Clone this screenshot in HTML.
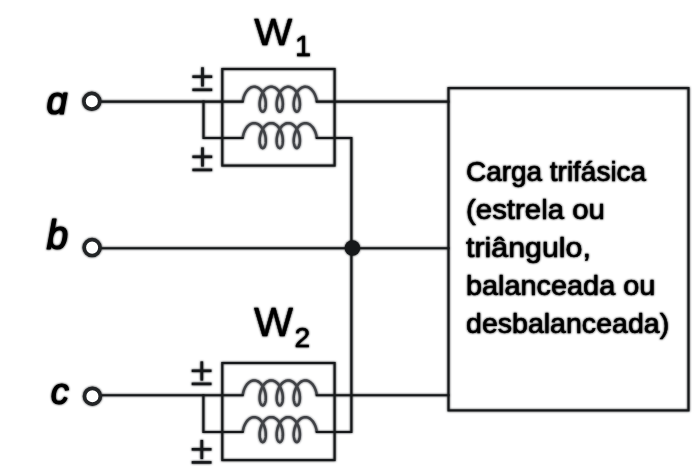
<!DOCTYPE html>
<html><head><meta charset="utf-8"><style>
html,body{margin:0;padding:0;background:#fff;overflow:hidden}
svg{display:block}
.bl{filter:blur(1px)}
</style></head><body>
<svg width="699" height="472" viewBox="0 0 699 472">
<defs><g id="dg">
<rect x="222.3" y="69" width="112.3" height="96.6" fill="none" stroke="#16181a" stroke-width="2.1"/>
<path d="M242.74,101.60 L242.87,100.68 L243.03,99.75 L243.23,98.82 L243.47,97.89 L243.75,96.97 L244.06,96.06 L244.41,95.17 L244.80,94.30 L245.22,93.46 L245.67,92.65 L246.16,91.87 L246.68,91.14 L247.22,90.46 L247.79,89.82 L248.39,89.23 L249.01,88.71 L249.65,88.23 L250.31,87.82 L250.98,87.48 L251.67,87.20 L252.36,86.98 L253.07,86.84 L253.77,86.76 L254.48,86.76 L255.19,86.82 L255.89,86.95 L256.59,87.15 L257.28,87.42 L257.96,87.75 L258.62,88.15 L259.26,88.60 L259.88,89.12 L260.49,89.70 L261.06,90.32 L261.61,91.00 L262.14,91.72 L262.63,92.49 L263.09,93.29 L263.52,94.12 L263.91,94.99 L264.27,95.87 L264.59,96.78 L264.87,97.70 L265.12,98.63 L265.33,99.56 L265.50,100.49 L265.63,101.41 L265.73,102.32 L265.79,103.22 L265.81,104.09 L265.80,104.93 L265.76,105.75 L265.68,106.53 L265.57,107.26 L265.43,107.95 L265.27,108.60 L265.08,109.19 L264.87,109.73 L264.64,110.21 L264.39,110.62 L264.12,110.98 L263.84,111.27 L263.55,111.49 L263.25,111.65 L262.95,111.73 L262.65,111.75 L262.34,111.69 L262.04,111.57 L261.75,111.38 L261.46,111.12 L261.19,110.80 L260.93,110.41 L260.69,109.96 L260.47,109.45 L260.27,108.88 L260.09,108.26 L259.94,107.59 L259.82,106.88 L259.73,106.12 L259.67,105.32 L259.64,104.49 L259.65,103.63 L259.69,102.75 L259.77,101.84 L259.89,100.92 L260.04,100.00 L260.23,99.06 L260.46,98.13 L260.73,97.21 L261.03,96.30 L261.37,95.40 L261.75,94.52 L262.16,93.68 L262.60,92.86 L263.08,92.08 L263.59,91.33 L264.13,90.63 L264.69,89.98 L265.28,89.38 L265.90,88.84 L266.53,88.35 L267.18,87.93 L267.85,87.56 L268.54,87.27 L269.23,87.03 L269.93,86.87 L270.64,86.78 L271.35,86.75 L272.06,86.79 L272.76,86.91 L273.46,87.09 L274.15,87.34 L274.83,87.65 L275.50,88.03 L276.14,88.48 L276.77,88.98 L277.38,89.54 L277.97,90.15 L278.52,90.81 L279.05,91.53 L279.55,92.28 L280.02,93.07 L280.46,93.90 L280.86,94.75 L281.23,95.64 L281.56,96.54 L281.85,97.45 L282.11,98.38 L282.33,99.31 L282.51,100.24 L282.65,101.17 L282.76,102.08 L282.83,102.98 L282.86,103.86 L282.86,104.71 L282.82,105.54 L282.75,106.32 L282.65,107.07 L282.53,107.78 L282.37,108.43 L282.19,109.04 L281.98,109.59 L281.75,110.09 L281.51,110.52 L281.24,110.89 L280.97,111.20 L280.68,111.44 L280.38,111.61 L280.08,111.72 L279.78,111.75 L279.47,111.72 L279.17,111.61 L278.88,111.44 L278.59,111.20 L278.31,110.89 L278.05,110.52 L277.81,110.09 L277.58,109.59 L277.37,109.04 L277.19,108.43 L277.03,107.78 L276.90,107.07 L276.80,106.32 L276.73,105.54 L276.70,104.71 L276.70,103.86 L276.73,102.98 L276.80,102.08 L276.90,101.17 L277.05,100.24 L277.23,99.31 L277.45,98.38 L277.70,97.45 L278.00,96.54 L278.33,95.64 L278.70,94.75 L279.10,93.90 L279.53,93.07 L280.00,92.28 L280.50,91.53 L281.03,90.81 L281.59,90.15 L282.18,89.54 L282.78,88.98 L283.41,88.48 L284.06,88.03 L284.73,87.65 L285.41,87.34 L286.10,87.09 L286.80,86.91 L287.50,86.79 L288.21,86.75 L288.92,86.78 L289.63,86.87 L290.33,87.03 L291.02,87.27 L291.70,87.56 L292.37,87.93 L293.03,88.35 L293.66,88.84 L294.28,89.38 L294.87,89.98 L295.43,90.63 L295.97,91.33 L296.48,92.08 L296.96,92.86 L297.40,93.68 L297.81,94.52 L298.19,95.40 L298.53,96.30 L298.83,97.21 L299.10,98.13 L299.33,99.06 L299.52,100.00 L299.67,100.92 L299.79,101.84 L299.87,102.75 L299.91,103.63 L299.92,104.49 L299.89,105.32 L299.83,106.12 L299.74,106.88 L299.62,107.59 L299.47,108.26 L299.29,108.88 L299.09,109.45 L298.87,109.96 L298.63,110.41 L298.37,110.80 L298.09,111.12 L297.81,111.38 L297.52,111.57 L297.22,111.69 L296.91,111.75 L296.61,111.73 L296.31,111.65 L296.01,111.49 L295.72,111.27 L295.44,110.98 L295.17,110.62 L294.92,110.21 L294.69,109.73 L294.48,109.19 L294.29,108.60 L294.12,107.95 L293.99,107.26 L293.88,106.53 L293.80,105.75 L293.76,104.93 L293.75,104.09 L293.77,103.22 L293.83,102.32 L293.93,101.41 L294.06,100.49 L294.23,99.56 L294.44,98.63 L294.68,97.70 L294.97,96.78 L295.29,95.87 L295.65,94.99 L296.04,94.12 L296.47,93.29 L296.93,92.49 L297.42,91.72 L297.94,91.00 L298.49,90.32 L299.07,89.70 L299.67,89.12 L300.30,88.60 L300.94,88.15 L301.60,87.75 L302.28,87.42 L302.97,87.15 L303.66,86.95 L304.37,86.82 L305.08,86.76 L305.79,86.76 L306.49,86.84 L307.20,86.98 L307.89,87.20 L308.58,87.48 L309.25,87.82 L309.91,88.23 L310.55,88.71 L311.17,89.23 L311.76,89.82 L312.34,90.46 L312.88,91.14 L313.40,91.87 L313.88,92.65 L314.34,93.46 L314.76,94.30 L315.14,95.17 L315.49,96.06 L315.81,96.97 L316.08,97.89 L316.32,98.82 L316.52,99.75 L316.69,100.68 L316.81,101.60" fill="none" stroke="#404246" stroke-width="2.45"/>
<path d="M242.74,138.00 L242.87,137.08 L243.03,136.15 L243.23,135.22 L243.47,134.29 L243.75,133.37 L244.06,132.46 L244.41,131.57 L244.80,130.70 L245.22,129.86 L245.67,129.05 L246.16,128.27 L246.68,127.54 L247.22,126.86 L247.79,126.22 L248.39,125.63 L249.01,125.11 L249.65,124.63 L250.31,124.22 L250.98,123.88 L251.67,123.60 L252.36,123.38 L253.07,123.24 L253.77,123.16 L254.48,123.16 L255.19,123.22 L255.89,123.35 L256.59,123.55 L257.28,123.82 L257.96,124.15 L258.62,124.55 L259.26,125.00 L259.88,125.52 L260.49,126.10 L261.06,126.72 L261.61,127.40 L262.14,128.12 L262.63,128.89 L263.09,129.69 L263.52,130.52 L263.91,131.39 L264.27,132.27 L264.59,133.18 L264.87,134.10 L265.12,135.03 L265.33,135.96 L265.50,136.89 L265.63,137.81 L265.73,138.72 L265.79,139.62 L265.81,140.49 L265.80,141.33 L265.76,142.15 L265.68,142.93 L265.57,143.66 L265.43,144.35 L265.27,145.00 L265.08,145.59 L264.87,146.13 L264.64,146.61 L264.39,147.02 L264.12,147.38 L263.84,147.67 L263.55,147.89 L263.25,148.05 L262.95,148.13 L262.65,148.15 L262.34,148.09 L262.04,147.97 L261.75,147.78 L261.46,147.52 L261.19,147.20 L260.93,146.81 L260.69,146.36 L260.47,145.85 L260.27,145.28 L260.09,144.66 L259.94,143.99 L259.82,143.28 L259.73,142.52 L259.67,141.72 L259.64,140.89 L259.65,140.03 L259.69,139.15 L259.77,138.24 L259.89,137.32 L260.04,136.40 L260.23,135.46 L260.46,134.53 L260.73,133.61 L261.03,132.70 L261.37,131.80 L261.75,130.92 L262.16,130.08 L262.60,129.26 L263.08,128.48 L263.59,127.73 L264.13,127.03 L264.69,126.38 L265.28,125.78 L265.90,125.24 L266.53,124.75 L267.18,124.33 L267.85,123.96 L268.54,123.67 L269.23,123.43 L269.93,123.27 L270.64,123.18 L271.35,123.15 L272.06,123.19 L272.76,123.31 L273.46,123.49 L274.15,123.74 L274.83,124.05 L275.50,124.43 L276.14,124.88 L276.77,125.38 L277.38,125.94 L277.97,126.55 L278.52,127.21 L279.05,127.93 L279.55,128.68 L280.02,129.47 L280.46,130.30 L280.86,131.15 L281.23,132.04 L281.56,132.94 L281.85,133.85 L282.11,134.78 L282.33,135.71 L282.51,136.64 L282.65,137.57 L282.76,138.48 L282.83,139.38 L282.86,140.26 L282.86,141.11 L282.82,141.94 L282.75,142.72 L282.65,143.47 L282.53,144.18 L282.37,144.83 L282.19,145.44 L281.98,145.99 L281.75,146.49 L281.51,146.92 L281.24,147.29 L280.97,147.60 L280.68,147.84 L280.38,148.01 L280.08,148.12 L279.78,148.15 L279.47,148.12 L279.17,148.01 L278.88,147.84 L278.59,147.60 L278.31,147.29 L278.05,146.92 L277.81,146.49 L277.58,145.99 L277.37,145.44 L277.19,144.83 L277.03,144.18 L276.90,143.47 L276.80,142.72 L276.73,141.94 L276.70,141.11 L276.70,140.26 L276.73,139.38 L276.80,138.48 L276.90,137.57 L277.05,136.64 L277.23,135.71 L277.45,134.78 L277.70,133.85 L278.00,132.94 L278.33,132.04 L278.70,131.15 L279.10,130.30 L279.53,129.47 L280.00,128.68 L280.50,127.93 L281.03,127.21 L281.59,126.55 L282.18,125.94 L282.78,125.38 L283.41,124.88 L284.06,124.43 L284.73,124.05 L285.41,123.74 L286.10,123.49 L286.80,123.31 L287.50,123.19 L288.21,123.15 L288.92,123.18 L289.63,123.27 L290.33,123.43 L291.02,123.67 L291.70,123.96 L292.37,124.33 L293.03,124.75 L293.66,125.24 L294.28,125.78 L294.87,126.38 L295.43,127.03 L295.97,127.73 L296.48,128.48 L296.96,129.26 L297.40,130.08 L297.81,130.92 L298.19,131.80 L298.53,132.70 L298.83,133.61 L299.10,134.53 L299.33,135.46 L299.52,136.40 L299.67,137.32 L299.79,138.24 L299.87,139.15 L299.91,140.03 L299.92,140.89 L299.89,141.72 L299.83,142.52 L299.74,143.28 L299.62,143.99 L299.47,144.66 L299.29,145.28 L299.09,145.85 L298.87,146.36 L298.63,146.81 L298.37,147.20 L298.09,147.52 L297.81,147.78 L297.52,147.97 L297.22,148.09 L296.91,148.15 L296.61,148.13 L296.31,148.05 L296.01,147.89 L295.72,147.67 L295.44,147.38 L295.17,147.02 L294.92,146.61 L294.69,146.13 L294.48,145.59 L294.29,145.00 L294.12,144.35 L293.99,143.66 L293.88,142.93 L293.80,142.15 L293.76,141.33 L293.75,140.49 L293.77,139.62 L293.83,138.72 L293.93,137.81 L294.06,136.89 L294.23,135.96 L294.44,135.03 L294.68,134.10 L294.97,133.18 L295.29,132.27 L295.65,131.39 L296.04,130.52 L296.47,129.69 L296.93,128.89 L297.42,128.12 L297.94,127.40 L298.49,126.72 L299.07,126.10 L299.67,125.52 L300.30,125.00 L300.94,124.55 L301.60,124.15 L302.28,123.82 L302.97,123.55 L303.66,123.35 L304.37,123.22 L305.08,123.16 L305.79,123.16 L306.49,123.24 L307.20,123.38 L307.89,123.60 L308.58,123.88 L309.25,124.22 L309.91,124.63 L310.55,125.11 L311.17,125.63 L311.76,126.22 L312.34,126.86 L312.88,127.54 L313.40,128.27 L313.88,129.05 L314.34,129.86 L314.76,130.70 L315.14,131.57 L315.49,132.46 L315.81,133.37 L316.08,134.29 L316.32,135.22 L316.52,136.15 L316.69,137.08 L316.81,138.00" fill="none" stroke="#404246" stroke-width="2.45"/>
<rect x="222.3" y="363" width="112.3" height="97.10000000000002" fill="none" stroke="#16181a" stroke-width="2.1"/>
<path d="M242.74,395.30 L242.87,394.38 L243.03,393.45 L243.23,392.52 L243.47,391.59 L243.75,390.67 L244.06,389.76 L244.41,388.87 L244.80,388.00 L245.22,387.16 L245.67,386.35 L246.16,385.57 L246.68,384.84 L247.22,384.16 L247.79,383.52 L248.39,382.93 L249.01,382.41 L249.65,381.93 L250.31,381.52 L250.98,381.18 L251.67,380.90 L252.36,380.68 L253.07,380.54 L253.77,380.46 L254.48,380.46 L255.19,380.52 L255.89,380.65 L256.59,380.85 L257.28,381.12 L257.96,381.45 L258.62,381.85 L259.26,382.30 L259.88,382.82 L260.49,383.40 L261.06,384.02 L261.61,384.70 L262.14,385.42 L262.63,386.19 L263.09,386.99 L263.52,387.82 L263.91,388.69 L264.27,389.57 L264.59,390.48 L264.87,391.40 L265.12,392.33 L265.33,393.26 L265.50,394.19 L265.63,395.11 L265.73,396.02 L265.79,396.92 L265.81,397.79 L265.80,398.63 L265.76,399.45 L265.68,400.23 L265.57,400.96 L265.43,401.65 L265.27,402.30 L265.08,402.89 L264.87,403.43 L264.64,403.91 L264.39,404.32 L264.12,404.68 L263.84,404.97 L263.55,405.19 L263.25,405.35 L262.95,405.43 L262.65,405.45 L262.34,405.39 L262.04,405.27 L261.75,405.08 L261.46,404.82 L261.19,404.50 L260.93,404.11 L260.69,403.66 L260.47,403.15 L260.27,402.58 L260.09,401.96 L259.94,401.29 L259.82,400.58 L259.73,399.82 L259.67,399.02 L259.64,398.19 L259.65,397.33 L259.69,396.45 L259.77,395.54 L259.89,394.62 L260.04,393.70 L260.23,392.76 L260.46,391.83 L260.73,390.91 L261.03,390.00 L261.37,389.10 L261.75,388.22 L262.16,387.38 L262.60,386.56 L263.08,385.78 L263.59,385.03 L264.13,384.33 L264.69,383.68 L265.28,383.08 L265.90,382.54 L266.53,382.05 L267.18,381.63 L267.85,381.26 L268.54,380.97 L269.23,380.73 L269.93,380.57 L270.64,380.48 L271.35,380.45 L272.06,380.49 L272.76,380.61 L273.46,380.79 L274.15,381.04 L274.83,381.35 L275.50,381.73 L276.14,382.18 L276.77,382.68 L277.38,383.24 L277.97,383.85 L278.52,384.51 L279.05,385.23 L279.55,385.98 L280.02,386.77 L280.46,387.60 L280.86,388.45 L281.23,389.34 L281.56,390.24 L281.85,391.15 L282.11,392.08 L282.33,393.01 L282.51,393.94 L282.65,394.87 L282.76,395.78 L282.83,396.68 L282.86,397.56 L282.86,398.41 L282.82,399.24 L282.75,400.02 L282.65,400.77 L282.53,401.48 L282.37,402.13 L282.19,402.74 L281.98,403.29 L281.75,403.79 L281.51,404.22 L281.24,404.59 L280.97,404.90 L280.68,405.14 L280.38,405.31 L280.08,405.42 L279.78,405.45 L279.47,405.42 L279.17,405.31 L278.88,405.14 L278.59,404.90 L278.31,404.59 L278.05,404.22 L277.81,403.79 L277.58,403.29 L277.37,402.74 L277.19,402.13 L277.03,401.48 L276.90,400.77 L276.80,400.02 L276.73,399.24 L276.70,398.41 L276.70,397.56 L276.73,396.68 L276.80,395.78 L276.90,394.87 L277.05,393.94 L277.23,393.01 L277.45,392.08 L277.70,391.15 L278.00,390.24 L278.33,389.34 L278.70,388.45 L279.10,387.60 L279.53,386.77 L280.00,385.98 L280.50,385.23 L281.03,384.51 L281.59,383.85 L282.18,383.24 L282.78,382.68 L283.41,382.18 L284.06,381.73 L284.73,381.35 L285.41,381.04 L286.10,380.79 L286.80,380.61 L287.50,380.49 L288.21,380.45 L288.92,380.48 L289.63,380.57 L290.33,380.73 L291.02,380.97 L291.70,381.26 L292.37,381.63 L293.03,382.05 L293.66,382.54 L294.28,383.08 L294.87,383.68 L295.43,384.33 L295.97,385.03 L296.48,385.78 L296.96,386.56 L297.40,387.38 L297.81,388.22 L298.19,389.10 L298.53,390.00 L298.83,390.91 L299.10,391.83 L299.33,392.76 L299.52,393.70 L299.67,394.62 L299.79,395.54 L299.87,396.45 L299.91,397.33 L299.92,398.19 L299.89,399.02 L299.83,399.82 L299.74,400.58 L299.62,401.29 L299.47,401.96 L299.29,402.58 L299.09,403.15 L298.87,403.66 L298.63,404.11 L298.37,404.50 L298.09,404.82 L297.81,405.08 L297.52,405.27 L297.22,405.39 L296.91,405.45 L296.61,405.43 L296.31,405.35 L296.01,405.19 L295.72,404.97 L295.44,404.68 L295.17,404.32 L294.92,403.91 L294.69,403.43 L294.48,402.89 L294.29,402.30 L294.12,401.65 L293.99,400.96 L293.88,400.23 L293.80,399.45 L293.76,398.63 L293.75,397.79 L293.77,396.92 L293.83,396.02 L293.93,395.11 L294.06,394.19 L294.23,393.26 L294.44,392.33 L294.68,391.40 L294.97,390.48 L295.29,389.57 L295.65,388.69 L296.04,387.82 L296.47,386.99 L296.93,386.19 L297.42,385.42 L297.94,384.70 L298.49,384.02 L299.07,383.40 L299.67,382.82 L300.30,382.30 L300.94,381.85 L301.60,381.45 L302.28,381.12 L302.97,380.85 L303.66,380.65 L304.37,380.52 L305.08,380.46 L305.79,380.46 L306.49,380.54 L307.20,380.68 L307.89,380.90 L308.58,381.18 L309.25,381.52 L309.91,381.93 L310.55,382.41 L311.17,382.93 L311.76,383.52 L312.34,384.16 L312.88,384.84 L313.40,385.57 L313.88,386.35 L314.34,387.16 L314.76,388.00 L315.14,388.87 L315.49,389.76 L315.81,390.67 L316.08,391.59 L316.32,392.52 L316.52,393.45 L316.69,394.38 L316.81,395.30" fill="none" stroke="#404246" stroke-width="2.45"/>
<path d="M242.74,432.00 L242.87,431.08 L243.03,430.15 L243.23,429.22 L243.47,428.29 L243.75,427.37 L244.06,426.46 L244.41,425.57 L244.80,424.70 L245.22,423.86 L245.67,423.05 L246.16,422.27 L246.68,421.54 L247.22,420.86 L247.79,420.22 L248.39,419.63 L249.01,419.11 L249.65,418.63 L250.31,418.22 L250.98,417.88 L251.67,417.60 L252.36,417.38 L253.07,417.24 L253.77,417.16 L254.48,417.16 L255.19,417.22 L255.89,417.35 L256.59,417.55 L257.28,417.82 L257.96,418.15 L258.62,418.55 L259.26,419.00 L259.88,419.52 L260.49,420.10 L261.06,420.72 L261.61,421.40 L262.14,422.12 L262.63,422.89 L263.09,423.69 L263.52,424.52 L263.91,425.39 L264.27,426.27 L264.59,427.18 L264.87,428.10 L265.12,429.03 L265.33,429.96 L265.50,430.89 L265.63,431.81 L265.73,432.72 L265.79,433.62 L265.81,434.49 L265.80,435.33 L265.76,436.15 L265.68,436.93 L265.57,437.66 L265.43,438.35 L265.27,439.00 L265.08,439.59 L264.87,440.13 L264.64,440.61 L264.39,441.02 L264.12,441.38 L263.84,441.67 L263.55,441.89 L263.25,442.05 L262.95,442.13 L262.65,442.15 L262.34,442.09 L262.04,441.97 L261.75,441.78 L261.46,441.52 L261.19,441.20 L260.93,440.81 L260.69,440.36 L260.47,439.85 L260.27,439.28 L260.09,438.66 L259.94,437.99 L259.82,437.28 L259.73,436.52 L259.67,435.72 L259.64,434.89 L259.65,434.03 L259.69,433.15 L259.77,432.24 L259.89,431.32 L260.04,430.40 L260.23,429.46 L260.46,428.53 L260.73,427.61 L261.03,426.70 L261.37,425.80 L261.75,424.92 L262.16,424.08 L262.60,423.26 L263.08,422.48 L263.59,421.73 L264.13,421.03 L264.69,420.38 L265.28,419.78 L265.90,419.24 L266.53,418.75 L267.18,418.33 L267.85,417.96 L268.54,417.67 L269.23,417.43 L269.93,417.27 L270.64,417.18 L271.35,417.15 L272.06,417.19 L272.76,417.31 L273.46,417.49 L274.15,417.74 L274.83,418.05 L275.50,418.43 L276.14,418.88 L276.77,419.38 L277.38,419.94 L277.97,420.55 L278.52,421.21 L279.05,421.93 L279.55,422.68 L280.02,423.47 L280.46,424.30 L280.86,425.15 L281.23,426.04 L281.56,426.94 L281.85,427.85 L282.11,428.78 L282.33,429.71 L282.51,430.64 L282.65,431.57 L282.76,432.48 L282.83,433.38 L282.86,434.26 L282.86,435.11 L282.82,435.94 L282.75,436.72 L282.65,437.47 L282.53,438.18 L282.37,438.83 L282.19,439.44 L281.98,439.99 L281.75,440.49 L281.51,440.92 L281.24,441.29 L280.97,441.60 L280.68,441.84 L280.38,442.01 L280.08,442.12 L279.78,442.15 L279.47,442.12 L279.17,442.01 L278.88,441.84 L278.59,441.60 L278.31,441.29 L278.05,440.92 L277.81,440.49 L277.58,439.99 L277.37,439.44 L277.19,438.83 L277.03,438.18 L276.90,437.47 L276.80,436.72 L276.73,435.94 L276.70,435.11 L276.70,434.26 L276.73,433.38 L276.80,432.48 L276.90,431.57 L277.05,430.64 L277.23,429.71 L277.45,428.78 L277.70,427.85 L278.00,426.94 L278.33,426.04 L278.70,425.15 L279.10,424.30 L279.53,423.47 L280.00,422.68 L280.50,421.93 L281.03,421.21 L281.59,420.55 L282.18,419.94 L282.78,419.38 L283.41,418.88 L284.06,418.43 L284.73,418.05 L285.41,417.74 L286.10,417.49 L286.80,417.31 L287.50,417.19 L288.21,417.15 L288.92,417.18 L289.63,417.27 L290.33,417.43 L291.02,417.67 L291.70,417.96 L292.37,418.33 L293.03,418.75 L293.66,419.24 L294.28,419.78 L294.87,420.38 L295.43,421.03 L295.97,421.73 L296.48,422.48 L296.96,423.26 L297.40,424.08 L297.81,424.92 L298.19,425.80 L298.53,426.70 L298.83,427.61 L299.10,428.53 L299.33,429.46 L299.52,430.40 L299.67,431.32 L299.79,432.24 L299.87,433.15 L299.91,434.03 L299.92,434.89 L299.89,435.72 L299.83,436.52 L299.74,437.28 L299.62,437.99 L299.47,438.66 L299.29,439.28 L299.09,439.85 L298.87,440.36 L298.63,440.81 L298.37,441.20 L298.09,441.52 L297.81,441.78 L297.52,441.97 L297.22,442.09 L296.91,442.15 L296.61,442.13 L296.31,442.05 L296.01,441.89 L295.72,441.67 L295.44,441.38 L295.17,441.02 L294.92,440.61 L294.69,440.13 L294.48,439.59 L294.29,439.00 L294.12,438.35 L293.99,437.66 L293.88,436.93 L293.80,436.15 L293.76,435.33 L293.75,434.49 L293.77,433.62 L293.83,432.72 L293.93,431.81 L294.06,430.89 L294.23,429.96 L294.44,429.03 L294.68,428.10 L294.97,427.18 L295.29,426.27 L295.65,425.39 L296.04,424.52 L296.47,423.69 L296.93,422.89 L297.42,422.12 L297.94,421.40 L298.49,420.72 L299.07,420.10 L299.67,419.52 L300.30,419.00 L300.94,418.55 L301.60,418.15 L302.28,417.82 L302.97,417.55 L303.66,417.35 L304.37,417.22 L305.08,417.16 L305.79,417.16 L306.49,417.24 L307.20,417.38 L307.89,417.60 L308.58,417.88 L309.25,418.22 L309.91,418.63 L310.55,419.11 L311.17,419.63 L311.76,420.22 L312.34,420.86 L312.88,421.54 L313.40,422.27 L313.88,423.05 L314.34,423.86 L314.76,424.70 L315.14,425.57 L315.49,426.46 L315.81,427.37 L316.08,428.29 L316.32,429.22 L316.52,430.15 L316.69,431.08 L316.81,432.00" fill="none" stroke="#404246" stroke-width="2.45"/>
<path d="M99.5,101.6 L242.6,101.6" fill="none" stroke="#16181a" stroke-width="2.1" stroke-linecap="square"/>
<path d="M316.81287183463326,101.6 L448.5,101.6" fill="none" stroke="#16181a" stroke-width="2.1" stroke-linecap="square"/>
<path d="M203.5,101.6 L203.5,138 L242.6,138" fill="none" stroke="#16181a" stroke-width="2.1" stroke-linecap="square"/>
<path d="M316.81287183463326,138 L351.4,138 L351.4,432.0 L316.81287183463326,432.0" fill="none" stroke="#16181a" stroke-width="2.1" stroke-linecap="square"/>
<path d="M99.8,248.2 L448.5,248.2" fill="none" stroke="#16181a" stroke-width="2.1" stroke-linecap="square"/>
<path d="M100.2,395.3 L242.6,395.3" fill="none" stroke="#16181a" stroke-width="2.1" stroke-linecap="square"/>
<path d="M316.81287183463326,395.3 L448.5,395.3" fill="none" stroke="#16181a" stroke-width="2.1" stroke-linecap="square"/>
<path d="M203.4,395.3 L203.4,432.0 L242.6,432.0" fill="none" stroke="#16181a" stroke-width="2.1" stroke-linecap="square"/>
<rect x="448.5" y="88.1" width="240" height="322.3" fill="none" stroke="#16181a" stroke-width="2.1"/>
<circle cx="352.4" cy="248" r="7.8" fill="#16181a"/>
<circle cx="91.8" cy="101.3" r="7.9" fill="#fff" stroke="#222426" stroke-width="3.7"/>
<circle cx="92.1" cy="247.6" r="7.9" fill="#fff" stroke="#222426" stroke-width="3.7"/>
<circle cx="92.4" cy="396.2" r="7.9" fill="#fff" stroke="#222426" stroke-width="3.7"/>
<rect x="192.40" y="75.40" width="19.8" height="2.6" fill="#16181a"/><rect x="201.15" y="67.30" width="2.7" height="19.2" fill="#16181a"/><rect x="192.40" y="88.50" width="19.8" height="2.6" fill="#16181a"/>
<rect x="192.40" y="155.50" width="19.8" height="2.6" fill="#16181a"/><rect x="201.15" y="147.40" width="2.7" height="19.2" fill="#16181a"/><rect x="192.40" y="168.60" width="19.8" height="2.6" fill="#16181a"/>
<rect x="191.70" y="369.50" width="19.8" height="2.6" fill="#16181a"/><rect x="200.45" y="361.40" width="2.7" height="19.2" fill="#16181a"/><rect x="191.70" y="382.60" width="19.8" height="2.6" fill="#16181a"/>
<rect x="191.70" y="448.00" width="19.8" height="2.6" fill="#16181a"/><rect x="200.45" y="439.90" width="2.7" height="19.2" fill="#16181a"/><rect x="191.70" y="461.10" width="19.8" height="2.6" fill="#16181a"/>
<text transform="translate(46.6,113.8) scale(0.97,1)" font-family='"Liberation Sans", sans-serif' font-weight="normal" font-style="italic" font-size="39" fill="#000" stroke="#000" stroke-width="1.2" stroke-linejoin="round">ɑ</text>
<text transform="translate(46.6,249.4) scale(0.95,1)" font-family='"Liberation Sans", sans-serif' font-weight="normal" font-style="italic" font-size="41" fill="#000" stroke="#000" stroke-width="1.2" stroke-linejoin="round">b</text>
<text transform="translate(50.8,404.3) scale(0.97,1)" font-family='"Liberation Sans", sans-serif' font-weight="normal" font-style="italic" font-size="37.5" fill="#000" stroke="#000" stroke-width="1.1" stroke-linejoin="round">c</text>
<text transform="translate(254.2,45.2) scale(1.08,1)" font-family='"Liberation Sans", sans-serif' font-weight="normal" font-style="normal" font-size="37.3" fill="#000" stroke="#000" stroke-width="0.35" stroke-linejoin="round">W</text>
<text transform="translate(295,55.6) scale(1.0,1)" font-family='"Liberation Sans", sans-serif' font-weight="normal" font-style="normal" font-size="29" fill="#000" stroke="#000" stroke-width="0.4" stroke-linejoin="round">1</text>
<text transform="translate(253.9,336.1) scale(1.01,1)" font-family='"Liberation Sans", sans-serif' font-weight="normal" font-style="normal" font-size="41" fill="#000" stroke="#000" stroke-width="0.35" stroke-linejoin="round">W</text>
<text transform="translate(294.6,347.0) scale(1.0,1)" font-family='"Liberation Sans", sans-serif' font-weight="normal" font-style="normal" font-size="28.3" fill="#000" stroke="#000" stroke-width="0.4" stroke-linejoin="round">2</text>
<text transform="translate(466,180.8) scale(1.002,1)" font-family='"Liberation Sans", sans-serif' font-weight="normal" font-style="normal" font-size="27.9" fill="#000" stroke="#000" stroke-width="0.5" stroke-linejoin="round">Carga trifásica</text>
<text transform="translate(466,218.7) scale(1.0538,1)" font-family='"Liberation Sans", sans-serif' font-weight="normal" font-style="normal" font-size="27.9" fill="#000" stroke="#000" stroke-width="0.5" stroke-linejoin="round">(estrela ou</text>
<text transform="translate(466,256.5) scale(1.0881,1)" font-family='"Liberation Sans", sans-serif' font-weight="normal" font-style="normal" font-size="27.9" fill="#000" stroke="#000" stroke-width="0.5" stroke-linejoin="round">triângulo,</text>
<text transform="translate(466,294.6) scale(1.0343,1)" font-family='"Liberation Sans", sans-serif' font-weight="normal" font-style="normal" font-size="27.9" fill="#000" stroke="#000" stroke-width="0.5" stroke-linejoin="round">balanceada ou</text>
<text transform="translate(466,333.4) scale(1.0235,1)" font-family='"Liberation Sans", sans-serif' font-weight="normal" font-style="normal" font-size="27.9" fill="#000" stroke="#000" stroke-width="0.5" stroke-linejoin="round">desbalanceada)</text>
</g></defs>
<use href="#dg" class="bl"/>
<use href="#dg"/>
</svg>
</body></html>
